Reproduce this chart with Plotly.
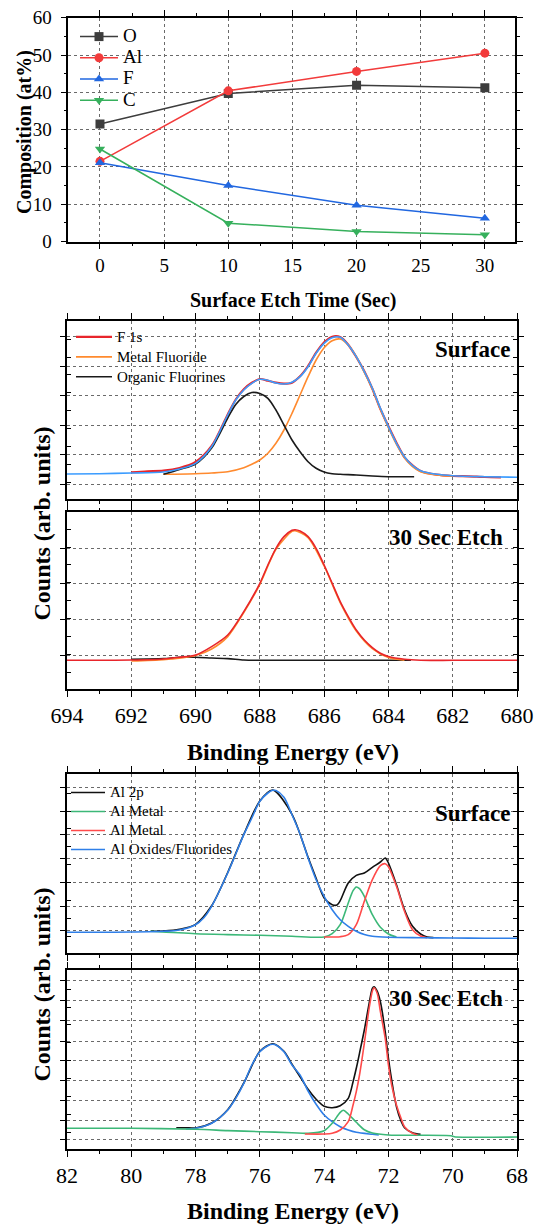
import plotly.graph_objects as go

W, H = 535, 1224
FONT = "Liberation Serif, Times New Roman, serif"

# ---------------- composition vs etch time ----------------
etch_time = [0, 10, 20, 30]
comp_O = [31.5, 39.7, 41.9, 41.2]
comp_Al = [21.5, 40.4, 45.6, 50.5]
comp_F = [21.1, 15.0, 9.7, 6.2]
comp_C = [24.8, 4.9, 2.7, 1.8]

# ---------------- F 1s, surface ----------------
f1s_fit_ev = [694, 693, 692, 691, 690.5, 690, 689.5, 689, 688.75, 688.5, 688.25, 688, 687.75, 687.5,
              687.25, 687, 686.75, 686.5, 686.25, 686, 685.75, 685.5, 685.25, 685, 684.75, 684.5,
              684.25, 684, 683.75, 683.5, 683.25, 683, 682.5, 682, 681, 680]
f1s_fit = [25.0, 25.3, 26.0, 27.0, 30.0, 35.7, 52.3, 84.0, 99.0, 109.0, 115.7, 119.7, 118.7, 116.0,
           115.0, 116.7, 122.3, 132.3, 145.7, 155.7, 161.3, 161.7, 154.0, 142.3, 127.3, 110.7,
           90.7, 72.3, 55.7, 42.3, 33.3, 28.3, 24.7, 23.3, 22.3, 21.7]
f1s_data_ev = [692, 691.5, 691, 690.5, 690, 689.5, 689, 688.75, 688.5, 688.25, 688, 687.75, 687.5,
               687.25, 687, 686.75, 686.5, 686.25, 686, 685.75, 685.5, 685.25, 685, 684.75, 684.5,
               684.25, 684, 683.75, 683.5, 683.25, 683, 682.5, 682, 681.5, 681, 680.5]
f1s_data = [26.7, 27.7, 28.3, 31.0, 37.0, 53.0, 84.5, 99.5, 109.8, 116.3, 120.0, 118.3, 116.3,
            115.3, 116.3, 122.7, 133.0, 146.3, 156.7, 162.3, 162.0, 154.3, 142.0, 127.7, 110.3,
            90.0, 72.7, 56.3, 41.7, 33.7, 28.0, 24.3, 23.0, 22.7, 22.0, 21.7]
f1s_metal_ev = [691, 690, 689.5, 689, 688.5, 688.25, 688, 687.75, 687.5, 687.25, 687, 686.75, 686.5,
                686.25, 686, 685.75, 685.5, 685.25, 685, 684.75, 684.5, 684.25, 684, 683.75, 683.5,
                683.25, 683, 682.5, 682]
f1s_metal = [24.7, 25.3, 26.0, 27.3, 31.3, 34.7, 39.0, 45.7, 55.7, 69.0, 85.7, 104.0, 122.3,
             139.0, 151.3, 158.3, 160.0, 154.0, 142.3, 126.7, 110.0, 89.7, 71.3, 54.7, 41.3,
             32.3, 27.3, 24.0, 22.7]
f1s_org_ev = [691, 690.5, 690, 689.5, 689, 688.75, 688.5, 688.25, 688, 687.75, 687.5, 687.25, 687,
              686.75, 686.5, 686.25, 686, 685.75, 685.5, 685, 684.5, 684, 683.2]
f1s_org = [24.7, 29.5, 35.0, 51.0, 81.0, 94.5, 102.5, 106.5, 105.5, 100.7, 89.0, 74.0, 59.0,
           47.3, 37.3, 30.7, 27.0, 25.3, 24.7, 24.0, 23.0, 22.3, 22.3]

# ---------------- F 1s, 30 s etch ----------------
f1e_data_ev = [694, 693, 692, 691, 690.5, 690, 689.5, 689, 688.5, 688, 687.75, 687.5, 687.25, 687,
               686.9, 686.75, 686.5, 686.25, 686, 685.75, 685.5, 685.25, 685, 684.75, 684.5,
               684.25, 684, 683.5, 683, 682, 681, 680]
f1e_data = [29.0, 29.0, 29.3, 30.3, 32.0, 34.3, 42.7, 54.3, 77.7, 106.0, 124.3, 141.0, 152.7, 159.0,
            159.6, 158.3, 152.7, 141.0, 124.3, 106.0, 87.7, 72.7, 59.3, 49.3, 41.7, 36.0, 32.7,
            30.0, 29.0, 29.0, 29.0, 29.0]
f1e_metal_ev = [692, 691, 690.5, 690, 689.5, 689, 688.5, 688, 687.5, 687, 686.9, 686.5, 686, 685.5,
                685, 684.5, 684, 683.5]
f1e_metal = [28.3, 29.7, 31.0, 33.7, 40.3, 52.7, 76.7, 105.0, 140.0, 158.0, 158.6, 151.7, 123.3,
             86.7, 58.3, 40.7, 31.7, 29.0]
f1e_org_ev = [692, 691, 690.5, 690, 689.5, 689, 688.5, 688, 683.3]
f1e_org = [30.0, 30.7, 32.0, 32.0, 31.3, 30.7, 29.3, 29.0, 29.0]

# ---------------- Al 2p, surface ----------------
a2s_data_ev = [79.4, 79, 78.5, 78, 77.5, 77, 76.5, 76, 75.6, 75, 74.5, 74.25, 74, 73.75, 73.6, 73.5,
               73.25, 73, 72.75, 72.5, 72.25, 72.1, 72, 71.75, 71.5, 71.25, 71, 70.8, 70.6]
a2s_data = [22.0, 22.3, 24.0, 29.0, 47.5, 80.8, 119.0, 152.3, 163.3, 139.0, 96.0, 75.0, 55.3,
            48.6, 48.3, 52.6, 70.3, 77.9, 80.3, 86.0, 91.3, 95.3, 90.3, 68.6, 43.6, 27.0, 19.3,
            16.3, 15.7]
a2s_m1_ev = [79.4, 78, 77, 76, 75, 74, 73.75, 73.5, 73.25, 73.1, 73, 72.9, 72.75, 72.5, 72.25, 72,
             71.75]
a2s_m1 = [22.0, 19.6, 18.7, 18.0, 17.0, 16.3, 19.6, 28.6, 50.3, 62.6, 66.3, 64.6, 57.0, 38.6,
          26.0, 19.3, 16.3]
a2s_m2_ev = [74, 73.5, 73.25, 73, 72.75, 72.5, 72.25, 72.1, 72, 71.75, 71.5, 71.25, 71, 70.8]
a2s_m2 = [16.3, 16.6, 18.6, 28.6, 52.0, 73.6, 87.6, 89.6, 86.6, 67.0, 42.0, 23.6, 17.3, 15.6]
a2s_ox_ev = [82, 81, 80, 79, 78.5, 78, 77.75, 77.5, 77, 76.75, 76.5, 76.25, 76, 75.75, 75.6, 75.5,
             75.25, 75, 74.75, 74.5, 74.25, 74, 73.75, 73.5, 73.25, 73, 72.75, 72.5, 72, 71, 70,
             69, 68]
a2s_ox = [21.0, 21.0, 21.3, 22.0, 23.3, 28.6, 35.3, 47.0, 80.3, 99.3, 118.6, 135.3, 152.0, 160.3,
          163.0, 162.7, 156.0, 138.6, 119.3, 95.3, 73.6, 57.0, 43.6, 33.6, 27.0, 22.0, 18.7, 17.0,
          16.0, 15.6, 15.3, 15.0, 15.0]

# ---------------- Al 2p, 30 s etch ----------------
a2e_data_ev = [78.6, 78.3, 78, 77.5, 77, 76.5, 76, 75.6, 75.25, 75, 74.75, 74.5, 74.25, 74, 73.75,
               73.5, 73.25, 73.1, 73, 72.9, 72.75, 72.6, 72.5, 72.45, 72.35, 72.25, 72.1, 72, 71.9,
               71.75, 71.6, 71.5, 71.25, 71]
a2e_data = [21.6, 21.6, 21.3, 26.3, 39.6, 66.3, 98.0, 105.6, 98.0, 85.0, 72.6, 60.0, 50.0, 43.0,
            41.6, 43.6, 51.0, 67.6, 81.0, 96.0, 119.3, 146.0, 161.0, 162.6, 158.3, 147.6, 117.6,
            91.0, 69.3, 42.6, 27.6, 21.6, 16.6, 15.0]
a2e_ox_ev = [78.3, 78, 77.5, 77, 76.75, 76.5, 76.25, 76, 75.75, 75.6, 75.5, 75.25, 75, 74.75, 74.5,
             74.25, 74, 73.75, 73.5, 73.25, 73, 72.5, 72.3]
a2e_ox = [20.3, 21.0, 26.0, 39.3, 51.0, 66.0, 84.3, 97.6, 103.6, 105.0, 104.3, 97.6, 84.3, 74.3,
          58.3, 45.0, 34.3, 27.6, 22.6, 19.3, 17.0, 15.0, 14.3]
a2e_m1_ev = [82, 80, 78, 77, 76, 75, 74.5, 74, 73.75, 73.5, 73.4, 73.25, 73, 72.75, 72.5, 72,
             70.05, 69.95, 68]
a2e_m1 = [21.0, 21.0, 20.0, 18.7, 17.6, 16.6, 16.0, 18.6, 26.0, 37.0, 39.0, 35.3, 27.0, 19.6,
          16.3, 14.3, 13.6, 12.6, 12.3]
a2e_m2_ev = [74.6, 74, 73.75, 73.5, 73.25, 73.1, 73, 72.9, 72.75, 72.6, 72.5, 72.45, 72.35, 72.25,
             72.1, 72, 71.9, 71.75, 71.6, 71.5, 71.25, 71.1]
a2e_m2 = [15.3, 15.3, 16.0, 19.3, 27.6, 44.3, 57.6, 74.3, 106.0, 141.0, 158.3, 161.6, 156.0, 137.6,
          111.0, 84.3, 64.3, 44.3, 30.3, 22.6, 16.0, 14.6]

# gridline / tick positions (arbitrary count units) of the spectra panels
grid_f_surf = [15, 44.5, 74, 103.5, 133, 162.5]
grid_f_etch = [34.3, 70, 105.5, 141]
grid_a_surf = [23, 47, 71, 94.6, 118.6, 142.3, 166.3]
grid_a_etch = [10.3, 29.3, 49.3, 69.3, 89.3, 107.6, 129.3, 149.3, 169.3]
minor_ticks = [17, 35, 53, 71, 89, 107, 125, 142, 160]

# ---------------- colours ----------------
C_O, C_AL, C_F, C_C = "#3d3d3d", "#f23b3b", "#2167e0", "#36b05c"
C_FDATA, C_FMET, C_FORG, C_FFIT = "#e8252b", "#ff8a2e", "#1a1a1a", "#3b9cff"
C_ADATA, C_AM1, C_AM2, C_AOX = "#111111", "#3cb878", "#ff4a4a", "#2f7fe8"

fig = go.Figure()

def span(txt, size):
    return f"<span style='font-size:{size}px'>{txt}</span>"

# composition
for name, vals, col, sym in [("O", comp_O, C_O, "square"), ("Al", comp_Al, C_AL, "circle"),
                             ("F", comp_F, C_F, "triangle-up"), ("C", comp_C, C_C, "triangle-down")]:
    fig.add_trace(go.Scatter(x=etch_time, y=vals, name=span(name, 19), mode="lines+markers",
                             line=dict(color=col, width=1.5),
                             marker=dict(symbol=sym, size=9, color=col),
                             xaxis="x", yaxis="y", legend="legend"))

LW = 1.6
SP = dict(shape="spline", smoothing=0.8)

def curve(xv, yv, col, xa, ya, name=None, leg=None, width=LW):
    fig.add_trace(go.Scatter(x=xv, y=yv, mode="lines", name=name,
                             showlegend=name is not None, legend=leg or "legend",
                             line=dict(color=col, width=width, **SP), xaxis=xa, yaxis=ya))

# F 1s surface
curve(f1s_data_ev, f1s_data, C_FDATA, "x2", "y2", span("F 1s", 15), "legend2", width=2.2)
curve(f1s_metal_ev, f1s_metal, C_FMET, "x2", "y2", span("Metal Fluoride", 15), "legend2")
curve(f1s_org_ev, f1s_org, C_FORG, "x2", "y2", span("Organic Fluorines", 15), "legend2")
curve(f1s_fit_ev, f1s_fit, C_FFIT, "x2", "y2")
# F 1s etch
curve(f1e_org_ev, f1e_org, C_FORG, "x3", "y3")
curve(f1e_metal_ev, f1e_metal, C_FMET, "x3", "y3")
curve(f1e_data_ev, f1e_data, C_FDATA, "x3", "y3")
# Al 2p surface
curve(a2s_data_ev, a2s_data, C_ADATA, "x4", "y4", span("Al 2p", 15), "legend3")
curve(a2s_m1_ev, a2s_m1, C_AM1, "x4", "y4", span("Al Metal", 15), "legend3")
curve(a2s_m2_ev, a2s_m2, C_AM2, "x4", "y4", span("Al Metal", 15), "legend3")
curve(a2s_ox_ev, a2s_ox, C_AOX, "x4", "y4", span("Al Oxides/Fluorides", 15), "legend3")
# Al 2p etch
curve(a2e_data_ev, a2e_data, C_ADATA, "x5", "y5")
curve(a2e_ox_ev, a2e_ox, C_AOX, "x5", "y5")
curve(a2e_m1_ev, a2e_m1, C_AM1, "x5", "y5")
curve(a2e_m2_ev, a2e_m2, C_AM2, "x5", "y5")

GRID = dict(showgrid=True, gridcolor="#6a6a6a", gridwidth=1, griddash="dot")
AX = dict(showline=True, linecolor="black", linewidth=1.5, mirror="ticks", ticks="outside",
          tickcolor="black", tickwidth=1.2, zeroline=False)

def py(p):
    return 1 - p / H

# top chart axes
fig.update_layout(
    xaxis=dict(domain=[68.3 / W, 515 / W], range=[-2.47, 32.35], anchor="y", tick0=0, dtick=5,
               ticklen=6, tickfont=dict(size=19, family=FONT, color="black"),
               minor=dict(dtick=2.5, ticks="outside", ticklen=3, tickcolor="black"),
               **GRID, **AX),
    yaxis=dict(domain=[py(241.5), py(17.7)], range=[0, 60], anchor="x", tick0=0, dtick=10,
               ticklen=6, ticklabelstandoff=5, tickfont=dict(size=19, family=FONT, color="black"),
               minor=dict(dtick=5, ticks="outside", ticklen=3, tickcolor="black"),
               **GRID, **AX),
)

def spec_x(name, rng, anchor, labels):
    fig.layout[name] = dict(domain=[67 / W, 517 / W], range=rng, anchor=anchor, tick0=rng[1], dtick=2,
                            ticklen=6, showticklabels=labels,
                            tickfont=dict(size=22, family=FONT, color="black"),
                            minor=dict(dtick=1, ticks="outside", ticklen=3, tickcolor="black"),
                            **GRID, **AX)

def spec_y(name, dom, rng, anchor, grid):
    fig.layout[name] = dict(domain=dom, range=rng, anchor=anchor, tickmode="array", tickvals=grid,
                            ticklen=5, showticklabels=False,
                            minor=dict(tickmode="array", tickvals=minor_ticks, ticks="inside",
                                       ticklen=4, tickcolor="black"),
                            **GRID, **AX)

spec_x("xaxis2", [694, 680], "y2", False)
spec_x("xaxis3", [694, 680], "y3", True)
spec_x("xaxis4", [82, 68], "y4", False)
spec_x("xaxis5", [82, 68], "y5", True)
spec_y("yaxis2", [py(499), py(321)], [0, 178], "x2", grid_f_surf)
spec_y("yaxis3", [py(689.3), py(512.3)], [0, 177], "x3", grid_f_etch)
spec_y("yaxis4", [py(953.3), py(774)], [0, 179.3], "x4", grid_a_surf)
spec_y("yaxis5", [py(1149.3), py(970)], [0, 179.3], "x5", grid_a_etch)

LEG = dict(bgcolor="rgba(0,0,0,0)", borderwidth=0, xanchor="left", yanchor="top",
           tracegroupgap=0)
fig.update_layout(
    legend=dict(x=75 / W, y=py(21), font=dict(size=14, family=FONT, color="black"), itemwidth=38, **LEG),
    legend2=dict(x=71 / W, y=py(322), font=dict(size=13, family=FONT, color="black"), itemwidth=36, **LEG),
    legend3=dict(x=66 / W, y=py(778), font=dict(size=11, family=FONT, color="black"), itemwidth=34, **LEG),
)

ann = []
def text(t, x, y, size, angle=0, xanchor="center"):
    ann.append(dict(text=f"<b>{t}</b>", x=x / W, y=py(y), xref="paper", yref="paper", showarrow=False,
                    textangle=angle, xanchor=xanchor, yanchor="middle",
                    font=dict(size=size, family=FONT, color="black")))

text("Surface Etch Time (Sec)", 292.5, 300, 20)
text("Composition (at%)", 24, 132, 20, angle=-90)
text("Binding Energy (eV)", 292.7, 752, 24)
text("Counts (arb. units)", 41, 523.5, 24, angle=-90)
text("Binding Energy (eV)", 292.7, 1211, 24)
text("Counts (arb. units)", 41, 984.5, 24, angle=-90)
text("Surface", 512, 349.5, 23, xanchor="right")
text("30 Sec Etch", 505, 537, 23, xanchor="right")
text("Surface", 512, 813, 23, xanchor="right")
text("30 Sec Etch", 505, 998, 23, xanchor="right")

fig.update_layout(width=W, height=H, margin=dict(l=0, r=0, t=0, b=0, pad=0, autoexpand=False),
                  paper_bgcolor="white", plot_bgcolor="white",
                  font=dict(family=FONT, color="black"), annotations=ann, showlegend=True)

fig.write_html("out.html", config={"displayModeBar": False},
               post_script="document.body.style.margin='0';document.body.style.overflow='hidden';")
